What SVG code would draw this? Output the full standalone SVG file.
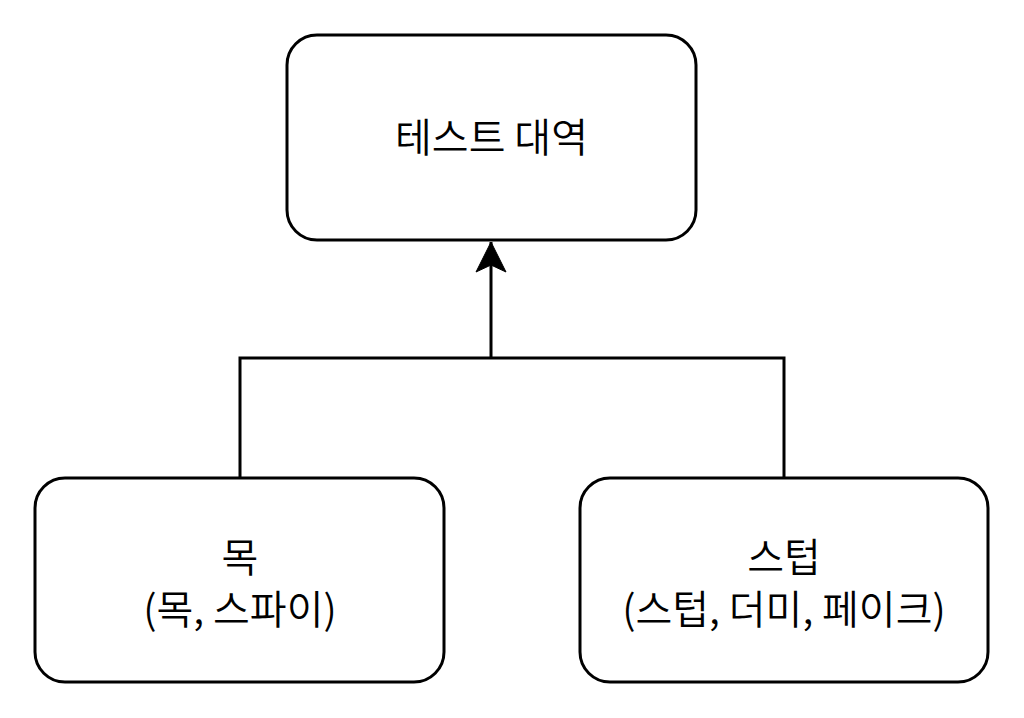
<svg xmlns="http://www.w3.org/2000/svg" width="1024" height="718" viewBox="0 0 1024 718">
<style>
.box{fill:#fff;stroke:#000;stroke-width:3}
.lbl{font-family:"Noto Sans CJK KR","Noto Sans",sans-serif;font-size:40px;font-weight:350;fill:#000;text-anchor:middle}
.conn{fill:none;stroke:#000;stroke-width:3}
</style>
<defs>
<marker id="arr" markerUnits="userSpaceOnUse" markerWidth="40" markerHeight="40" viewBox="0 0 40 40" refX="32" refY="20" orient="auto">
<path d="M2,5 L32,20 L2,35 L9,20 Z" fill="#000" stroke="#000" stroke-width="1"/>
</marker>
</defs>
<rect width="1024" height="718" fill="#fff"/>
<g id="conns">
<path class="conn" d="M240,478 V358 H784 V478"/>
<path class="conn" d="M491,358 V242" marker-end="url(#arr)"/>
</g>
<g id="node-top">
<rect class="box" x="287" y="35" width="409" height="205" rx="30" ry="30"/>
<text class="lbl" x="491.5" y="152">테스트 대역</text>
</g>
<g id="node-mock">
<rect class="box" x="35" y="478" width="409" height="204" rx="30" ry="30"/>
<text class="lbl"><tspan x="240" y="572">목</tspan><tspan x="240" y="624">(목, 스파이)</tspan></text>
</g>
<g id="node-stub">
<rect class="box" x="580" y="478" width="408" height="204" rx="30" ry="30"/>
<text class="lbl"><tspan x="784" y="572">스텁</tspan><tspan x="784" y="624">(스텁, 더미, 페이크)</tspan></text>
</g>
</svg>
